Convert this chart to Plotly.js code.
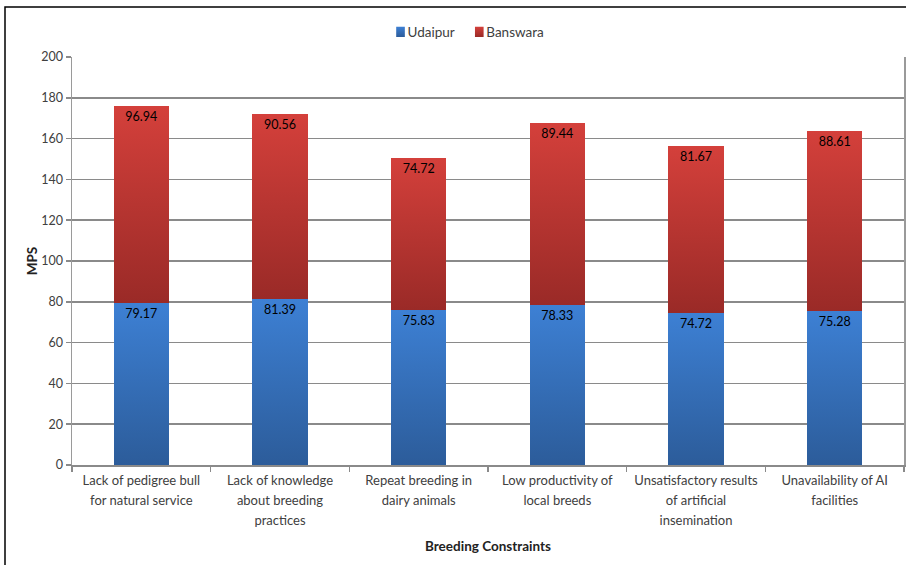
<!DOCTYPE html>
<html>
<head>
<meta charset="utf-8">
<script src="https://cdn.plot.ly/plotly-3.0.1.min.js"></script>
<style>
  html, body { margin: 0; padding: 0; background: #ffffff; }
  #chart { width: 906px; height: 565px; }
</style>
</head>
<body>
<div id="chart"></div>
<script>
// Breeding constraints, mean percent score by district
const constraints = [
  "Lack of pedigree bull<br>for natural service",
  "Lack of knowledge<br>about breeding<br>practices",
  "Repeat breeding in<br>dairy animals",
  "Low productivity of<br>local breeds",
  "Unsatisfactory results<br>of artificial<br>insemination",
  "Unavailability of AI<br>facilities"
];
const udaipur = [79.17, 81.39, 75.83, 78.33, 74.72, 75.28];
const banswara = [96.94, 90.56, 74.72, 89.44, 81.67, 88.61];
const yTicks = [0, 20, 40, 60, 80, 100, 120, 140, 160, 180, 200];

const FONT = "Lato, 'Open Sans', sans-serif";
const labelFont = { family: FONT, size: 12.5, color: "#000000" };

const udaipurTrace = {
  type: "bar",
  name: "Udaipur",
  x: constraints,
  y: udaipur,
  text: udaipur.map(v => v.toFixed(2)),
  textposition: "inside",
  insidetextanchor: "end",
  textfont: labelFont,
  insidetextfont: labelFont,
  constraintext: "none",
  marker: { color: "#3770bd", line: { width: 0 } },
  hoverinfo: "none"
};

const banswaraTrace = {
  type: "bar",
  name: "Banswara",
  x: constraints,
  y: banswara,
  text: banswara.map(v => v.toFixed(2)),
  textposition: "inside",
  insidetextanchor: "end",
  textfont: labelFont,
  insidetextfont: labelFont,
  constraintext: "none",
  marker: { color: "#c13733", line: { width: 0 } },
  hoverinfo: "none"
};

const layout = {
  width: 906,
  height: 565,
  margin: { l: 72, r: 2, t: 57, b: 100 },
  paper_bgcolor: "#ffffff",
  plot_bgcolor: "#ffffff",
  barmode: "stack",
  bargap: 0.6,
  font: { family: FONT, size: 13, color: "#404040" },
  showlegend: true,
  legend: {
    orientation: "h",
    x: 0.488, xanchor: "center",
    y: 1.061, yanchor: "middle",
    font: { family: FONT, size: 13.5, color: "#404040" },
    itemwidth: 30,
    traceorder: "normal",
    tracegroupgap: 0
  },
  xaxis: {
    type: "category",
    title: { text: "<b>Breeding Constraints</b>", font: { family: FONT, size: 13.5, color: "#222222" }, standoff: 20 },
    ticks: "outside",
    tickson: "boundaries",
    ticklen: 5,
    tickcolor: "#8a8a8a",
    tickwidth: 1.5,
    ticklabelstandoff: 3,
    showline: true,
    linecolor: "#8a8a8a",
    linewidth: 1.5,
    tickfont: { family: FONT, size: 13, color: "#404040" },
    showgrid: false,
    automargin: false
  },
  yaxis: {
    title: { text: "<b>MPS</b>", font: { family: FONT, size: 13.5, color: "#222222" }, standoff: 0 },
    range: [0, 200],
    tickvals: yTicks,
    ticktext: yTicks.map(String),
    ticks: "outside",
    ticklen: 5,
    tickcolor: "#8a8a8a",
    tickwidth: 1.5,
    showline: true,
    mirror: true,
    linecolor: "#9a9a9a",
    linewidth: 1.5,
    showgrid: true,
    gridcolor: "#8a8a8a",
    gridwidth: 1.7,
    zeroline: false,
    tickfont: { family: FONT, size: 12.5, color: "#404040" },
    automargin: false
  },
  shapes: [
    {
      type: "rect", xref: "paper", yref: "paper",
      x0: (5 - 72) / 832, x1: 1.02,
      y0: -0.27, y1: (465 - 8) / 407,
      line: { color: "#000000", width: 1.5 },
      fillcolor: "rgba(0,0,0,0)",
      layer: "below"
    }
  ]
};

// Vertical shading for each bar segment, light at the top and dark at the bottom
function addGradients(gd) {
  const svg = gd.querySelector("svg.main-svg");
  const ns = "http://www.w3.org/2000/svg";
  let defs = svg.querySelector("defs#bar-shading");
  if (!defs) {
    defs = document.createElementNS(ns, "defs");
    defs.setAttribute("id", "bar-shading");
    svg.insertBefore(defs, svg.firstChild);
    const grads = [
      { id: "shade-blue", top: "#3d80d4", bottom: "#2c5c9a" },
      { id: "shade-red", top: "#d4403b", bottom: "#9a2a27" }
    ];
    grads.forEach(g => {
      const lg = document.createElementNS(ns, "linearGradient");
      lg.setAttribute("id", g.id);
      lg.setAttribute("x1", "0"); lg.setAttribute("y1", "0");
      lg.setAttribute("x2", "0"); lg.setAttribute("y2", "1");
      const s1 = document.createElementNS(ns, "stop");
      s1.setAttribute("offset", "0"); s1.setAttribute("stop-color", g.top);
      const s2 = document.createElementNS(ns, "stop");
      s2.setAttribute("offset", "1"); s2.setAttribute("stop-color", g.bottom);
      lg.appendChild(s1); lg.appendChild(s2);
      defs.appendChild(lg);
    });
  }
  const fills = ["url(#shade-blue)", "url(#shade-red)"];
  gd.querySelectorAll(".barlayer .trace.bars").forEach((tr, i) => {
    tr.querySelectorAll(".point path").forEach(p => { p.style.fill = fills[i]; });
  });
  gd.querySelectorAll(".legend .traces").forEach((tr, i) => {
    tr.querySelectorAll(".legendpoints path").forEach(p => { p.style.fill = fills[i]; });
  });
}

// Compact legend: smaller swatches with the text right next to them
function tightenLegend(gd) {
  const items = gd.querySelectorAll(".legend .traces");
  items.forEach((it, i) => {
    const sw = it.querySelector(".legendpoints path");
    if (sw) {
      const tf = sw.getAttribute("transform") || "";
      sw.setAttribute("transform", tf + " scale(0.72,0.85)");
    }
    const t = it.querySelector("text.legendtext");
    if (t) t.setAttribute("x", parseFloat(t.getAttribute("x")) - 13);
    if (i > 0) {
      const m = /translate\(([-\d.]+)[ ,]+([-\d.]+)\)/.exec(it.getAttribute("transform") || "");
      if (m) it.setAttribute("transform", "translate(" + (parseFloat(m[1]) - 13.5 * i) + "," + m[2] + ")");
    }
  });
}

// Wider spacing between wrapped category label lines
function spreadTickLines(gd) {
  gd.querySelectorAll(".xtick text tspan.line").forEach(ts => {
    const dy = ts.getAttribute("dy");
    if (dy && dy.endsWith("em")) ts.setAttribute("dy", (parseFloat(dy) * 1.18) + "em");
  });
}

const gd = document.getElementById("chart");
Plotly.newPlot(gd, [udaipurTrace, banswaraTrace], layout, { staticPlot: true, displayModeBar: false })
  .then(() => { addGradients(gd); tightenLegend(gd); spreadTickLines(gd); });
</script>
</body>
</html>
